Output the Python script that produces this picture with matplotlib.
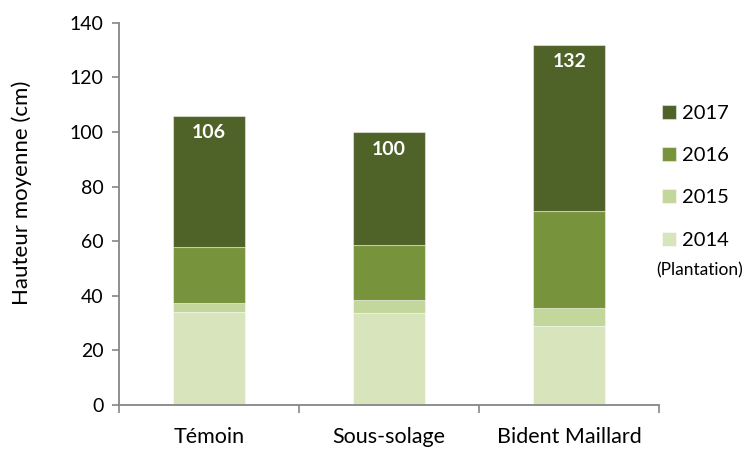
import matplotlib
matplotlib.use('Agg')
import matplotlib.pyplot as plt
import numpy as np

plt.rcParams['font.family'] = ['Lato', 'DejaVu Sans']

# Data (cm), stacked increments per year
categories = ['Témoin', 'Sous-solage', 'Bident Maillard']
years = ['2014', '2015', '2016', '2017']
h2014 = [34.0, 33.7, 29.0]
h2015 = [3.5, 4.8, 6.5]
h2016 = [20.5, 20.2, 35.6]
h2017 = [48.0, 41.3, 60.9]
totals = [106, 100, 132]

colors = ['#D7E4BC', '#C3D69B', '#77933C', '#4F6228']
axis_color = '#868686'

fig = plt.figure(figsize=(7.44, 4.5), dpi=100)
ax = fig.add_axes([0.16, 0.10, 0.726, 0.8496])

x = np.arange(len(categories))
series = [h2014, h2015, h2016, h2017]
bottom = np.zeros(len(categories))
handles = []
for vals, col, yr in zip(series, colors, years):
    b = ax.bar(x, vals, width=0.4, bottom=bottom, color=col,
               edgecolor=(1, 1, 1, 0.45), linewidth=0.8, label=yr)
    handles.append(b)
    bottom += np.array(vals)

# total labels inside top segment
for xi, tot in zip(x, totals):
    ax.text(xi, tot - 6.3, str(tot), ha='center', va='center',
            color='white', fontsize=14, fontweight='bold')

ax.set_xlim(-0.5, len(categories) - 0.5)
ax.set_ylim(0, 140)
ax.set_yticks(np.arange(0, 141, 20))
ax.set_xticks(x)
ax.set_xticklabels(categories, fontsize=15.5)
ax.set_xticks(np.arange(-0.5, len(categories), 1.0), minor=True)
ax.tick_params(axis='x', which='major', length=0, pad=16)
ax.tick_params(axis='x', which='minor', length=6, color=axis_color, width=1.2)
ax.tick_params(axis='y', length=5, color=axis_color, width=1.2, labelsize=14, pad=6)

for s in ['top', 'right']:
    ax.spines[s].set_visible(False)
for s in ['left', 'bottom']:
    ax.spines[s].set_color(axis_color)
    ax.spines[s].set_linewidth(1.3)

ax.set_ylabel('Hauteur moyenne (cm)', fontsize=16)
ax.yaxis.set_label_coords(-0.162, 0.555)

leg = fig.legend(handles[::-1], years[::-1], loc='upper left',
                 bbox_to_anchor=(0.8898, 0.767), frameon=False,
                 borderpad=0, borderaxespad=0,
                 fontsize=14.5, handlelength=0.7, handleheight=0.7,
                 handletextpad=0.3, labelspacing=1.25)
fig.text(0.94, 0.40, '(Plantation)', ha='center', va='center', fontsize=12.5)

plt.savefig('out.png', dpi=100)
